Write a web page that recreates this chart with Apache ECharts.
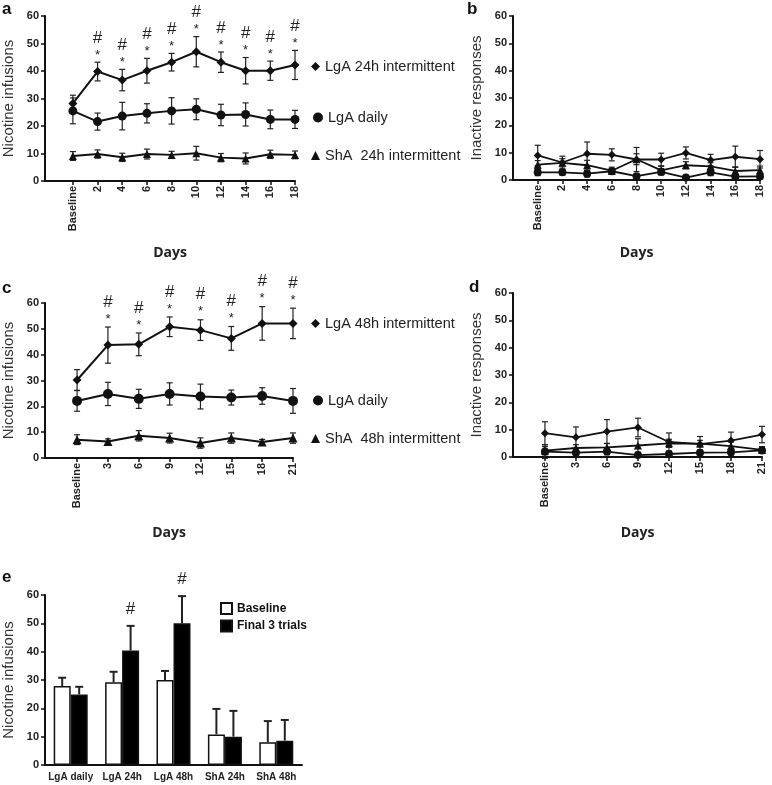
<!DOCTYPE html>
<html><head><meta charset="utf-8">
<script src="https://cdn.jsdelivr.net/npm/echarts@6/dist/echarts.min.js"></script>
<style>html,body{margin:0;padding:0;background:#fff}#c{width:772px;height:785px}</style>
</head><body><div id="c"></div>
<script>
// ---------- tick labels / categories ----------
const labels24 = ['Baseline','2','4','6','8','10','12','14','16','18'];
const labels48 = ['Baseline','3','6','9','12','15','18','21'];
const eCats = ['LgA daily','LgA 24h','LgA 48h','ShA 24h','ShA 48h'];

// ---------- panel a : nicotine infusions (24h) ----------
const aLgA24 = [28.2,39.8,36.7,40.1,43.2,47.0,43.2,40.1,40.1,42.2];
const aLgA24Err = [3.0,3.4,3.9,4.5,3.2,5.5,3.7,4.8,3.5,5.3];
const aLgADaily = [25.5,21.6,23.6,24.6,25.5,26.1,24.0,24.2,22.4,22.4];
const aLgADailyErr = [4.7,3.1,5.0,3.5,4.8,3.8,3.9,4.2,3.4,3.3];
const aShA24 = [9.1,9.8,8.6,9.8,9.5,10.1,8.5,8.2,9.7,9.5];
const aShA24Err = [1.6,1.5,1.5,1.8,1.3,2.5,1.5,2.0,1.5,1.4];
const aSig = [0,1,1,1,1,1,1,1,1,1];

// ---------- panel b : inactive responses (24h) ----------
const bLgA24 = [9.0,6.4,9.6,9.2,7.5,7.5,9.9,7.3,8.5,7.6];
const bLgA24Err = [3.7,2.3,4.3,2.2,4.4,2.3,2.2,2.1,3.9,3.2];
const bLgADaily = [2.8,2.8,2.3,3.2,1.4,3.0,0.9,2.8,1.2,1.3];
const bLgADailyErr = [1.2,1.0,1.2,1.0,0.8,1.2,0.6,1.2,0.8,0.8];
const bShA24 = [5.6,6.3,5.4,3.4,7.6,3.5,5.4,5.0,3.3,3.6];
const bShA24Err = [1.5,1.5,1.8,1.3,2.0,1.5,1.3,1.3,1.5,1.5];

// ---------- panel c : nicotine infusions (48h) ----------
const cLgA48 = [30.2,43.7,44.0,50.8,49.5,46.3,52.1,52.1];
const cLgA48Err = [4.0,7.0,4.4,3.8,4.0,4.6,6.5,5.9];
const cLgADaily = [22.1,24.8,22.9,24.8,23.8,23.4,24.0,22.1];
const cLgADailyErr = [4.0,4.5,3.7,4.3,4.8,2.9,3.2,4.8];
const cShA48 = [7.1,6.4,8.6,7.7,5.8,7.7,6.2,7.7];
const cShA48Err = [1.9,1.0,2.0,1.9,2.0,2.0,1.0,2.0];
const cSig = [0,1,1,1,1,1,1,1];

// ---------- panel d : inactive responses (48h) ----------
const dLgA48 = [8.7,7.2,9.3,10.8,5.5,4.7,6.0,8.2];
const dLgA48Err = [4.2,3.8,4.4,3.4,3.3,2.8,3.1,3.0];
const dLgADaily = [2.0,1.6,2.0,0.7,1.1,1.6,1.7,2.4];
const dLgADailyErr = [2.5,1.0,1.2,0.6,0.8,1.0,1.0,1.0];
const dShA48 = [2.3,3.3,3.5,4.2,5.0,4.9,4.0,2.6];
const dShA48Err = [1.5,1.2,1.5,2.5,1.5,1.2,1.5,1.2];

// ---------- panel e : baseline vs final 3 trials ----------
const eBase = [27.9,29.2,30.0,10.8,8.0];
const eBaseErr = [2.9,3.7,3.2,9.0,7.5];
const eFinal = [24.9,40.4,50.0,10.0,8.6];
const eFinalErr = [2.7,8.7,9.6,9.1,7.3];
const eSig = [0,1,1,0,0];

// ---------- helpers ----------
const INK = '#111';
const FONT = 'Liberation Sans, Arial, sans-serif';
const BAR_W = 17;

function yAx(gridIndex, name) {
  return {
    type: 'value', gridIndex, min: 0, max: 60, interval: 10,
    name, nameLocation: 'middle', nameGap: 29,
    nameTextStyle: { fontFamily: FONT, fontSize: 15, color: '#333' },
    axisLine: { show: true, onZero: false, lineStyle: { color: INK, width: 2 } },
    axisTick: { show: true, length: 4, lineStyle: { color: INK, width: 1.5 } },
    axisLabel: { fontFamily: FONT, fontWeight: 'bold', fontSize: 11, color: '#222', margin: 6 },
    splitLine: { show: false }
  };
}
function xAx(gridIndex, labels, min, nameGap) {
  const idx = labels.map((_, i) => i);
  return {
    type: 'value', gridIndex, min, max: labels.length - 1,
    name: 'Days', nameLocation: 'middle', nameGap,
    nameTextStyle: { fontFamily: 'Open Sans', fontWeight: 'bold', fontSize: 14, color: '#222' },
    axisLine: { onZero: false, lineStyle: { color: INK, width: 2 } },
    axisTick: { show: true, customValues: idx, length: 4, lineStyle: { color: INK, width: 1.5 } },
    axisLabel: { customValues: idx, formatter: v => labels[Math.round(v)], rotate: 90,
      fontFamily: FONT, fontWeight: 'bold', fontSize: 11, color: '#222', margin: 5 },
    splitLine: { show: false }
  };
}
function lineS(name, ax, vals, symbol, size, width) {
  return {
    type: 'line', name, xAxisIndex: ax, yAxisIndex: ax,
    data: vals.map((v, i) => [i, v]),
    symbol, symbolSize: size, z: 4,
    lineStyle: { color: INK, width: width || 2 },
    itemStyle: { color: INK }, emphasis: { disabled: true }, animation: false
  };
}
function errS(ax, vals, errs, capHalf, oneSided, dx, lw) {
  return {
    type: 'custom', xAxisIndex: ax, yAxisIndex: ax, z: 3, clip: false, silent: true,
    data: vals.map((v, i) => [i, v, errs[i]]),
    encode: { x: 0, y: 1 },
    renderItem(params, api) {
      const x = api.value(0), m = api.value(1), e = api.value(2);
      const top = api.coord([x, m + e]);
      const bot = api.coord([x, oneSided ? m : m - e]);
      const cx = top[0] + (dx || 0);
      const st = { stroke: '#222', lineWidth: lw || 1.2 };
      const ch = [
        { type: 'line', shape: { x1: cx, y1: top[1], x2: cx, y2: bot[1] }, style: st },
        { type: 'line', shape: { x1: cx - capHalf, y1: top[1], x2: cx + capHalf, y2: top[1] }, style: st }
      ];
      if (!oneSided) ch.push({ type: 'line', shape: { x1: cx - capHalf, y1: bot[1], x2: cx + capHalf, y2: bot[1] }, style: st });
      return { type: 'group', children: ch };
    }
  };
}
function sigS(ax, vals, errs, sig, withStar, dx, gapStar, gapHash) {
  return {
    type: 'custom', xAxisIndex: ax, yAxisIndex: ax, z: 5, clip: false, silent: true,
    data: vals.map((v, i) => [i, v + errs[i], sig[i]]),
    encode: { x: 0, y: 1 },
    renderItem(params, api) {
      if (!api.value(2)) return null;
      const p = api.coord([api.value(0), api.value(1)]);
      const cx = p[0] + (dx || 0);
      const ch = [];
      if (withStar) ch.push({ type: 'text', style: { text: '*', x: cx, y: p[1] - gapStar + 3, align: 'center', verticalAlign: 'middle', font: '13px ' + FONT, fill: '#222' } });
      ch.push({ type: 'text', style: { text: '#', x: cx, y: p[1] - gapHash, align: 'center', verticalAlign: 'middle', font: '17px ' + FONT, fill: '#222' } });
      return { type: 'group', children: ch };
    }
  };
}
function leg(name, icon, left, top, size) {
  return {
    data: [{ name, icon }], left, top, padding: 0, itemWidth: size, itemHeight: size,
    selectedMode: false, itemGap: 0,
    textStyle: { fontFamily: FONT, fontSize: 14.5, color: '#222' }
  };
}

const option = {
  backgroundColor: '#fff',
  animation: false,
  title: [
    { text: 'a', left: 2, top: 1 }, { text: 'b', left: 467, top: 1 },
    { text: 'c', left: 2, top: 280 }, { text: 'd', left: 469, top: 279 },
    { text: 'e', left: 2, top: 569 }
  ].map(t => Object.assign(t, { padding: 0, textStyle: { fontFamily: FONT, fontSize: 17, fontWeight: 'bold', color: '#111' } })),
  grid: [
    { left: 45, top: 16, width: 250, height: 165 },
    { left: 513, top: 16, width: 247, height: 164 },
    { left: 45, top: 303, width: 248, height: 155 },
    { left: 513, top: 293, width: 249, height: 164 },
    { left: 45, top: 595, width: 257, height: 170 }
  ],
  xAxis: [
    xAx(0, labels24, -1.13, 65),
    xAx(1, labels24, -1, 66),
    xAx(2, labels48, -1.04, 68),
    xAx(3, labels48, -1.03, 69),
    {
      type: 'category', gridIndex: 4, data: eCats,
      axisLine: { lineStyle: { color: INK, width: 2 } },
      axisTick: { alignWithLabel: true, length: 4, lineStyle: { color: INK, width: 1.5 } },
      axisLabel: { interval: 0, fontFamily: FONT, fontWeight: 'bold', fontSize: 10, color: '#222', margin: 7 }
    }
  ],
  yAxis: [
    yAx(0, 'Nicotine infusions'), yAx(1, 'Inactive responses'),
    yAx(2, 'Nicotine infusions'), yAx(3, 'Inactive responses'),
    yAx(4, 'Nicotine infusions')
  ],
  legend: [
    leg('LgA 24h intermittent', 'diamond', 311, 59, 9),
    leg('LgA daily', 'circle', 313, 110, 10),
    leg('ShA  24h intermittent', 'triangle', 311, 148, 9),
    leg('LgA 48h intermittent', 'diamond', 311, 316, 9),
    leg('LgA daily', 'circle', 313, 393, 10),
    leg('ShA  48h intermittent', 'triangle', 311, 431, 9),
    {
      data: [{ name: 'Baseline', icon: 'rect' }, { name: 'Final 3 trials', icon: 'rect' }],
      orient: 'vertical', left: 220, top: 602, padding: 0, itemWidth: 11, itemHeight: 11, itemGap: 4.5,
      selectedMode: false,
      textStyle: { fontFamily: FONT, fontSize: 12, fontWeight: 'bold', color: '#111' }
    }
  ],
  series: [
    // panel a
    errS(0, aLgA24, aLgA24Err, 3), errS(0, aLgADaily, aLgADailyErr, 3), errS(0, aShA24, aShA24Err, 3),
    lineS('LgA 24h intermittent', 0, aLgA24, 'diamond', 9),
    lineS('LgA daily', 0, aLgADaily, 'circle', 9),
    lineS('ShA  24h intermittent', 0, aShA24, 'triangle', 8),
    sigS(0, aLgA24, aLgA24Err, aSig, true, 0, 10, 24),
    // panel b
    errS(1, bLgA24, bLgA24Err, 3), errS(1, bLgADaily, bLgADailyErr, 3), errS(1, bShA24, bShA24Err, 3),
    lineS('LgA 24h intermittent', 1, bLgA24, 'diamond', 8, 1.8),
    lineS('LgA daily', 1, bLgADaily, 'circle', 8, 1.8),
    lineS('ShA  24h intermittent', 1, bShA24, 'triangle', 8, 1.8),
    // panel c
    errS(2, cLgA48, cLgA48Err, 3), errS(2, cLgADaily, cLgADailyErr, 3), errS(2, cShA48, cShA48Err, 3),
    lineS('LgA 48h intermittent', 2, cLgA48, 'diamond', 9),
    lineS('LgA daily', 2, cLgADaily, 'circle', 10),
    lineS('ShA  48h intermittent', 2, cShA48, 'triangle', 9),
    sigS(2, cLgA48, cLgA48Err, cSig, true, 0, 11, 25),
    // panel d
    errS(3, dLgA48, dLgA48Err, 3), errS(3, dLgADaily, dLgADailyErr, 3), errS(3, dShA48, dShA48Err, 3),
    lineS('LgA 48h intermittent', 3, dLgA48, 'diamond', 8, 1.8),
    lineS('LgA daily', 3, dLgADaily, 'circle', 8, 1.8),
    lineS('ShA  48h intermittent', 3, dShA48, 'triangle', 8, 1.8),
    // panel e
    {
      type: 'bar', name: 'Baseline', xAxisIndex: 4, yAxisIndex: 4, data: eBase,
      barWidth: BAR_W, barGap: '0%', z: 2,
      itemStyle: { color: '#fff', borderColor: INK, borderWidth: 1.5 }, emphasis: { disabled: true }
    },
    {
      type: 'bar', name: 'Final 3 trials', xAxisIndex: 4, yAxisIndex: 4, data: eFinal,
      barWidth: BAR_W, barGap: '0%', z: 2,
      itemStyle: { color: '#000', borderColor: INK, borderWidth: 1.5 }, emphasis: { disabled: true }
    },
    errS(4, eBase, eBaseErr, 4, true, -BAR_W / 2, 2),
    errS(4, eFinal, eFinalErr, 4, true, BAR_W / 2, 2),
    sigS(4, eFinal, eFinalErr, eSig, false, BAR_W / 2, 0, 17)
  ]
};
const chart = echarts.init(document.getElementById('c'), null, { renderer: 'canvas' });
chart.setOption(option);
</script>
</body></html>
